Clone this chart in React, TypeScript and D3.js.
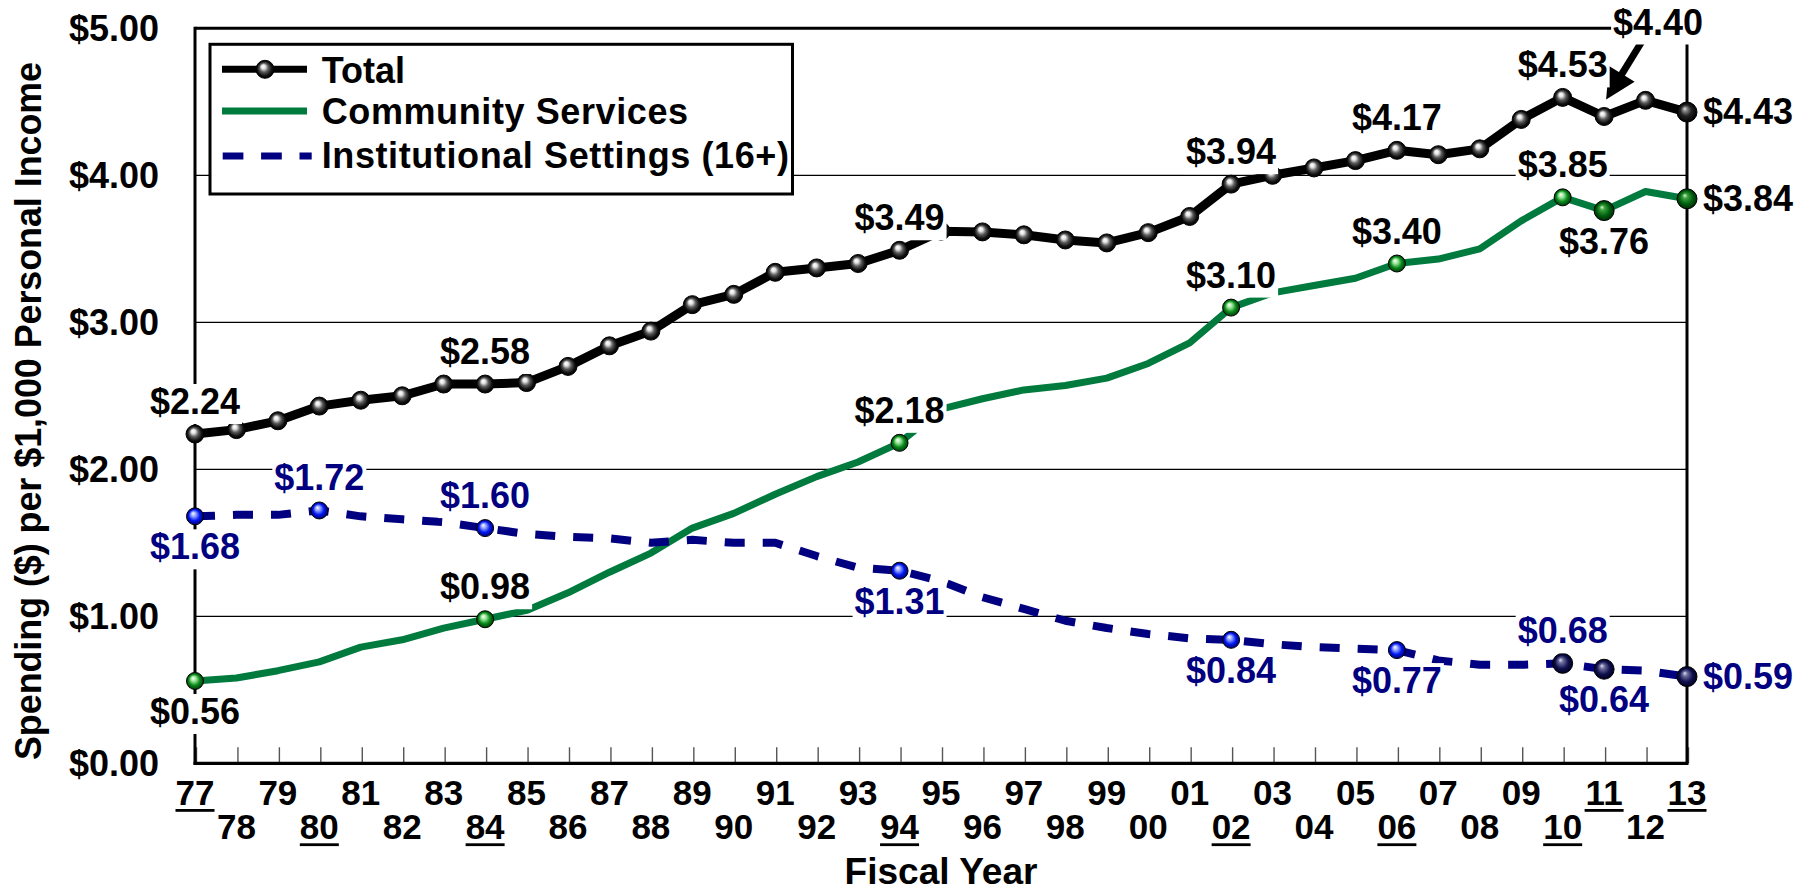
import React from "react";
import * as d3 from "d3";

// ---------- DATA ----------
const years: number[] = d3.range(1977, 2014);

const totalValues: number[] = [
  2.24, 2.27, 2.33, 2.43, 2.47, 2.50, 2.58, 2.58, 2.59, 2.70,
  2.84, 2.94, 3.12, 3.19, 3.34, 3.37, 3.40, 3.49, 3.62, 3.615,
  3.595, 3.56, 3.54, 3.61, 3.72, 3.94, 4.00, 4.05, 4.10, 4.17,
  4.14, 4.18, 4.38, 4.53, 4.40, 4.51, 4.43,
];

const communityValues: number[] = [
  0.56, 0.58, 0.63, 0.69, 0.79, 0.84, 0.92, 0.98, 1.04, 1.16,
  1.30, 1.43, 1.60, 1.70, 1.83, 1.95, 2.05, 2.18, 2.41, 2.48,
  2.54, 2.57, 2.62, 2.72, 2.86, 3.10, 3.20, 3.25, 3.30, 3.40,
  3.43, 3.50, 3.69, 3.85, 3.76, 3.89, 3.84,
];

const institutionalValues: number[] = [
  1.68, 1.69, 1.69, 1.72, 1.68, 1.66, 1.64, 1.60, 1.56, 1.54,
  1.53, 1.50, 1.52, 1.50, 1.50, 1.41, 1.33, 1.31, 1.24, 1.13,
  1.05, 0.97, 0.92, 0.88, 0.85, 0.84, 0.81, 0.79, 0.78, 0.77,
  0.70, 0.67, 0.67, 0.68, 0.64, 0.63, 0.59,
];

const yTicks: number[] = [0, 1, 2, 3, 4, 5];
const underlinedYears: number[] = [1977, 1980, 1984, 1994, 2002, 2006, 2010, 2011, 2013];

const communityMarkerYears: number[] = [1977, 1984, 1994, 2002, 2006, 2010, 2011, 2013];
const institutionalMarkerYears: number[] = [1977, 1980, 1984, 1994, 2002, 2006, 2010, 2011, 2013];

type Pos = "above" | "below" | "right" | "arrow";
const totalLabels: [number, Pos][] = [
  [1977, "above"], [1984, "above"], [1994, "above"], [2002, "above"],
  [2006, "above"], [2010, "above"], [2011, "arrow"], [2013, "right"],
];
const communityLabels: [number, Pos][] = [
  [1977, "below"], [1984, "above"], [1994, "above"], [2002, "above"],
  [2006, "above"], [2010, "above"], [2011, "below"], [2013, "right"],
];
const institutionalLabels: [number, Pos][] = [
  [1977, "below"], [1980, "above"], [1984, "above"], [1994, "below"],
  [2002, "below"], [2006, "below"], [2010, "above"], [2011, "below"], [2013, "right"],
];

const seriesNames = ["Total", "Community Services", "Institutional Settings (16+)"];

// ---------- STYLE ----------
const W = 1800;
const H = 891;
const FONT = "'Liberation Sans', Arial, Helvetica, sans-serif";
const BLACK = "#000000";
const GREEN = "#007a3d";
const NAVY = "#000080";

const x = d3.scaleLinear().domain([1977, 2013]).range([195, 1687]);
const y = d3.scaleLinear().domain([0, 5]).range([763.3, 28.3]);

const lineGen = d3
  .line<number>()
  .x((_, i) => x(years[i]))
  .y((d) => y(d));

function Label({ px, py, pos, text, color }: { px: number; py: number; pos: Pos; text: string; color: string }) {
  const w = 90;
  let left: number;
  let base: number;
  if (pos === "above") {
    left = px - w / 2;
    base = py - 20;
  } else if (pos === "below") {
    left = px - w / 2;
    base = py + 43;
  } else if (pos === "right") {
    left = px + 16;
    base = py + 12;
  } else {
    left = px + 54 - w / 2;
    base = py - 82;
  }
  return (
    <g>
      <rect x={left - 2} y={base - 30} width={w + 4} height={40} fill="#fff" />
      <text
        x={left}
        y={base}
        textLength={w}
        lengthAdjust="spacingAndGlyphs"
        fontFamily={FONT}
        fontWeight="bold"
        fontSize={36}
        fill={color}
      >
        {text}
      </text>
    </g>
  );
}

function Marker({ cx, cy, grad, r }: { cx: number; cy: number; grad: string; r: number }) {
  return <circle cx={cx} cy={cy} r={r} fill={`url(#${grad})`} stroke="#000" strokeWidth={1} />;
}

export default function App() {
  const idx = (yr: number) => years.indexOf(yr);

  const arrowTip = { x: x(2011) + 2, y: y(4.4) - 17 };
  const arrowTail = { x: arrowTip.x + 37, y: arrowTip.y - 60 };
  const dx = arrowTail.x - arrowTip.x;
  const dy = arrowTail.y - arrowTip.y;
  const len = Math.hypot(dx, dy);
  const ux = dx / len;
  const uy = dy / len;
  const headLen = 30;
  const headHalf = 15;
  const bx = arrowTip.x + ux * headLen;
  const by = arrowTip.y + uy * headLen;
  const p1 = [bx + -uy * headHalf, by + ux * headHalf];
  const p2 = [bx - -uy * headHalf, by - ux * headHalf];

  const darkCommunity = new Set([2011, 2013]);
  const darkInst = new Set([2010, 2011, 2013]);

  return (
    <svg
      width={W}
      height={H}
      viewBox={`0 0 ${W} ${H}`}
      style={{ position: "absolute", left: 0, top: 0, background: "#fff" }}
    >
      <defs>
        <radialGradient id="gBlack" cx="50%" cy="50%" r="50%" fx="38%" fy="32%">
          <stop offset="0%" stopColor="#ffffff" />
          <stop offset="22%" stopColor="#e6e6e6" />
          <stop offset="50%" stopColor="#5a5a5a" />
          <stop offset="80%" stopColor="#111" />
          <stop offset="100%" stopColor="#000000" />
        </radialGradient>
        <radialGradient id="gBlackDark" cx="50%" cy="50%" r="50%" fx="38%" fy="32%">
          <stop offset="0%" stopColor="#dddddd" />
          <stop offset="20%" stopColor="#888" />
          <stop offset="55%" stopColor="#222" />
          <stop offset="100%" stopColor="#000000" />
        </radialGradient>
        <radialGradient id="gGreen" cx="50%" cy="50%" r="50%" fx="38%" fy="32%">
          <stop offset="0%" stopColor="#ffffff" />
          <stop offset="30%" stopColor="#99e699" />
          <stop offset="65%" stopColor="#0a8a1a" />
          <stop offset="100%" stopColor="#003a0a" />
        </radialGradient>
        <radialGradient id="gGreenDark" cx="50%" cy="50%" r="50%" fx="38%" fy="32%">
          <stop offset="0%" stopColor="#d8f8d8" />
          <stop offset="25%" stopColor="#3aa03a" />
          <stop offset="65%" stopColor="#006010" />
          <stop offset="100%" stopColor="#002a05" />
        </radialGradient>
        <radialGradient id="gBlue" cx="50%" cy="50%" r="50%" fx="38%" fy="32%">
          <stop offset="0%" stopColor="#ffffff" />
          <stop offset="30%" stopColor="#8f9fff" />
          <stop offset="65%" stopColor="#0018f0" />
          <stop offset="100%" stopColor="#000070" />
        </radialGradient>
        <radialGradient id="gNavy" cx="50%" cy="50%" r="50%" fx="38%" fy="32%">
          <stop offset="0%" stopColor="#e0e0f0" />
          <stop offset="25%" stopColor="#6a6a9a" />
          <stop offset="65%" stopColor="#101050" />
          <stop offset="100%" stopColor="#000020" />
        </radialGradient>
      </defs>

      {/* gridlines */}
      {yTicks.filter((t) => t > 0 && t < 5).map((t) => (
        <line key={`g${t}`} x1={x(1977)} x2={x(2013)} y1={y(t)} y2={y(t)} stroke="#000" strokeWidth={1.2} />
      ))}

      {/* bottom ticks */}
      {years.map((yr) => (
        <line key={`t${yr}`} x1={x(yr) + 1.5} x2={x(yr) + 1.5} y1={y(0) - 16} y2={y(0)} stroke="#555" strokeWidth={1.4} />
      ))}

      {/* frame */}
      <line x1={x(1977)} x2={x(2013)} y1={y(5)} y2={y(5)} stroke="#000" strokeWidth={3} />
      <line x1={x(2013)} x2={x(2013)} y1={y(5)} y2={y(0)} stroke="#000" strokeWidth={3} />
      <line x1={x(1977)} x2={x(1977)} y1={y(5) - 1.5} y2={y(0) + 1.5} stroke="#000" strokeWidth={3} />
      <line x1={x(1977) - 1.5} x2={x(2013) + 1.5} y1={y(0)} y2={y(0)} stroke="#000" strokeWidth={3.3} />

      {/* y tick labels */}
      {yTicks.map((t) => (
        <text
          key={`yl${t}`}
          x={159 - 90}
          y={y(t) + 12.5}
          textLength={90}
          lengthAdjust="spacingAndGlyphs"
          fontFamily={FONT}
          fontWeight="bold"
          fontSize={36}
          fill="#000"
        >
          {`$${t.toFixed(2)}`}
        </text>
      ))}

      {/* y axis title */}
      <text
        transform={`translate(41,760) rotate(-90)`}
        x={0}
        y={0}
        textLength={698}
        lengthAdjust="spacingAndGlyphs"
        fontFamily={FONT}
        fontWeight="bold"
        fontSize={36}
        fill="#000"
      >
        Spending ($) per $1,000 Personal Income
      </text>

      {/* x tick labels */}
      {years.map((yr, i) => {
        const upper = i % 2 === 0;
        const base = upper ? 805 : 839.3;
        const lab = String(yr % 100).padStart(2, "0");
        const under = underlinedYears.includes(yr);
        return (
          <g key={`xl${yr}`}>
            <text x={x(yr)} y={base} textAnchor="middle" fontFamily={FONT} fontWeight="bold" fontSize={35} fill="#000">
              {lab}
            </text>
            {under && <rect x={x(yr) - 19.5} y={base + 4} width={39} height={2.8} fill="#000" />}
          </g>
        );
      })}

      {/* x axis title */}
      <text
        x={941 - 96.5}
        y={884}
        textLength={193}
        lengthAdjust="spacingAndGlyphs"
        fontFamily={FONT}
        fontWeight="bold"
        fontSize={36}
        fill="#000"
      >
        Fiscal Year
      </text>

      {/* series lines */}
      <path d={lineGen(communityValues) || ""} fill="none" stroke={GREEN} strokeWidth={7} strokeLinejoin="round" />
      <path
        d={lineGen(institutionalValues) || ""}
        fill="none"
        stroke={NAVY}
        strokeWidth={8}
        strokeDasharray="20 18"
        strokeLinejoin="round"
      />
      <path d={lineGen(totalValues) || ""} fill="none" stroke={BLACK} strokeWidth={9} strokeLinejoin="round" />

      {/* markers */}
      {communityMarkerYears.map((yr) => (
        <Marker
          key={`cm${yr}`}
          cx={x(yr)}
          cy={y(communityValues[idx(yr)])}
          grad={darkCommunity.has(yr) ? "gGreenDark" : "gGreen"}
          r={darkCommunity.has(yr) ? 10 : 8.5}
        />
      ))}
      {institutionalMarkerYears.map((yr) => (
        <Marker
          key={`im${yr}`}
          cx={x(yr)}
          cy={y(institutionalValues[idx(yr)])}
          grad={darkInst.has(yr) ? "gNavy" : "gBlue"}
          r={darkInst.has(yr) ? 10 : 8.5}
        />
      ))}
      {years.map((yr, i) => (
        <Marker
          key={`tm${yr}`}
          cx={x(yr)}
          cy={y(totalValues[i])}
          grad={yr === 2013 ? "gBlackDark" : "gBlack"}
          r={yr === 2013 ? 10 : 9}
        />
      ))}

      {/* legend */}
      <rect x={210} y={44.3} width={582.5} height={149.7} fill="#fff" stroke="#000" strokeWidth={3} />
      <line x1={222} x2={307} y1={69.3} y2={69.3} stroke={BLACK} strokeWidth={7} />
      <Marker cx={265} cy={69.3} grad="gBlack" r={9} />
      <line x1={222} x2={307} y1={111} y2={111} stroke={GREEN} strokeWidth={7} />
      <line x1={222.7} x2={311.7} y1={156} y2={156} stroke={NAVY} strokeWidth={7} strokeDasharray="20.7 17.7" />
      {seriesNames.map((n, i) => (
        <text
          key={n}
          x={321.7}
          y={[83.3, 124, 167.7][i]}
          fontFamily={FONT}
          fontWeight="bold"
          fontSize={36}
          letterSpacing={i === 0 ? 0 : 0.6}
          fill="#000"
        >
          {n}
        </text>
      ))}

      {/* arrow for $4.40 */}
      <line
        x1={arrowTail.x}
        x2={bx - ux}
        y1={arrowTail.y}
        y2={by - uy}
        stroke="#000"
        strokeWidth={7}
      />
      <polygon points={`${arrowTip.x},${arrowTip.y} ${p1[0]},${p1[1]} ${p2[0]},${p2[1]}`} fill="#000" />

      {/* data labels */}
      {communityLabels.map(([yr, pos]) => {
        const v = communityValues[idx(yr)];
        return <Label key={`cl${yr}`} px={x(yr)} py={y(v)} pos={pos} text={`$${v.toFixed(2)}`} color={BLACK} />;
      })}
      {institutionalLabels.map(([yr, pos]) => {
        const v = institutionalValues[idx(yr)];
        return <Label key={`il${yr}`} px={x(yr)} py={y(v)} pos={pos} text={`$${v.toFixed(2)}`} color={NAVY} />;
      })}
      {totalLabels.map(([yr, pos]) => {
        const v = totalValues[idx(yr)];
        return <Label key={`tl${yr}`} px={x(yr)} py={y(v)} pos={pos} text={`$${v.toFixed(2)}`} color={BLACK} />;
      })}
    </svg>
  );
}
